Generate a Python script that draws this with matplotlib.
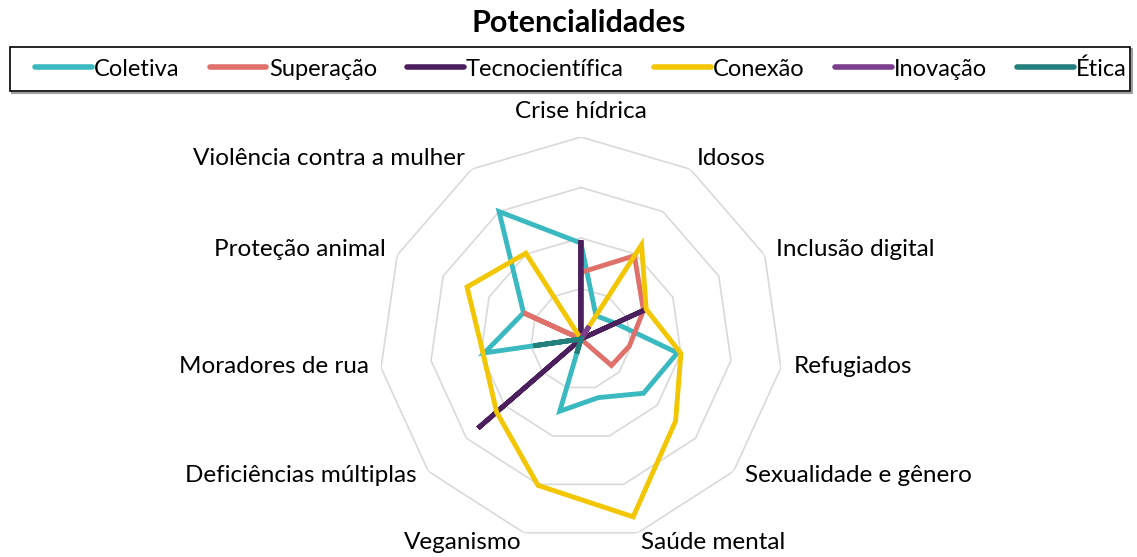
import numpy as np
import matplotlib
matplotlib.use("Agg")
import matplotlib.pyplot as plt
from matplotlib.patches import Rectangle

plt.rcParams["font.family"] = ["Lato", "DejaVu Sans"]

categorias = ["Crise hídrica", "Idosos", "Inclusão digital", "Refugiados",
              "Sexualidade e gênero", "Saúde mental", "Veganismo",
              "Deficiências múltiplas", "Moradores de rua", "Proteção animal",
              "Violência contra a mulher"]

coletiva = [1.9, 0.55, 0.75, 1.93, 1.64, 1.21, 1.49, 0, 1.93, 1.25, 3.0]
superacao = [1.32, 1.96, 1.36, 0.97, 0.8, 0, 0, 0, 0, 1.25, 0]
tecnocientifica = [1.91, 0, 1.39, 0, 0, 0, 0, 2.7, 0, 0, 0]
conexao = [0, 2.22, 1.42, 2.0, 2.48, 3.67, 3.02, 2.21, 1.96, 2.48, 2.02]
inovacao = [0, 0.3, 0, 0, 0, 0, 0, 0, 0, 0, 0]
etica = [0, 0, 0, 0, 0, 0, 0.3, 0, 0.95, 0, 0]

series = [("Coletiva", coletiva, "#3BB9C1"),
          ("Superação", superacao, "#E0706A"),
          ("Tecnocientífica", tecnocientifica, "#4B1F5C"),
          ("Conexão", conexao, "#F2C600"),
          ("Inovação", inovacao, "#7B3F8E"),
          ("Ética", etica, "#237F7B")]

n = len(categorias)
ang = np.linspace(0, 2*np.pi, n, endpoint=False)
ang_c = np.append(ang, ang[0])

W, H = 1137, 557
fig = plt.figure(figsize=(W/100, H/100), dpi=100)
ax = fig.add_axes([0.3333, 0.0287, 0.3553, 0.7253], projection="polar")
ax.set_theta_offset(np.pi/2)
ax.set_theta_direction(-1)
ax.set_ylim(0, 4)
ax.grid(False)
ax.set_xticks([])
ax.set_yticks([])
ax.spines["polar"].set_visible(False)

# anéis poligonais
for r in [1, 2, 3, 4]:
    ax.plot(ang_c, [r]*(n+1), color="#d9d9d9", lw=1.2, zorder=1)

for nome, vals, cor in series:
    v = np.append(vals, vals[0])
    ax.plot(ang_c, v, color=cor, lw=3.5, label=nome, zorder=3,
            solid_joinstyle="miter")

for a, cat in zip(ang, categorias):
    s = np.sin(a)
    c = np.cos(a)
    if abs(s) < 0.01:
        ha = "center"
    elif s > 0:
        ha = "left"
    else:
        ha = "right"
    dy = 0
    r = 4.25
    va = "center"
    if c > 0.99:
        va = "bottom"
        r = 4.3
    elif c < -0.9:
        r = 4.2
    elif c < -0.3:
        r = 4.3
        dy = 4
    elif c < 0:
        dy = 2
    ax.annotate(cat, (a, r), xytext=(0, dy), textcoords="offset points",
                ha=ha, va=va, fontsize=17.5, annotation_clip=False)

fig.suptitle("Potencialidades", x=579/W, y=1-9/H, fontsize=22,
             fontweight="bold", va="top")

# moldura da legenda
fig.patches.append(Rectangle((12/W, 1-93/H), 1120/W, 44/H, transform=fig.transFigure,
                             fill=False, edgecolor="#a0a0a0", lw=1.5, zorder=0))
fig.patches.append(Rectangle((10/W, 1-91/H), 1120/W, 44/H, transform=fig.transFigure,
                             facecolor="white", edgecolor="black", lw=1.2, zorder=1))

leg = fig.legend(loc="center left", bbox_to_anchor=(35/W, 1-69/H, 1092/W, 0),
                 mode="expand", ncol=6, fontsize=17, handlelength=2.4,
                 handletextpad=0.1, borderaxespad=0, borderpad=0,
                 frameon=False, columnspacing=1.0)
for h in leg.get_lines():
    h.set_linewidth(4)
    h.set_solid_capstyle("round")

plt.savefig("out.png", dpi=100)
